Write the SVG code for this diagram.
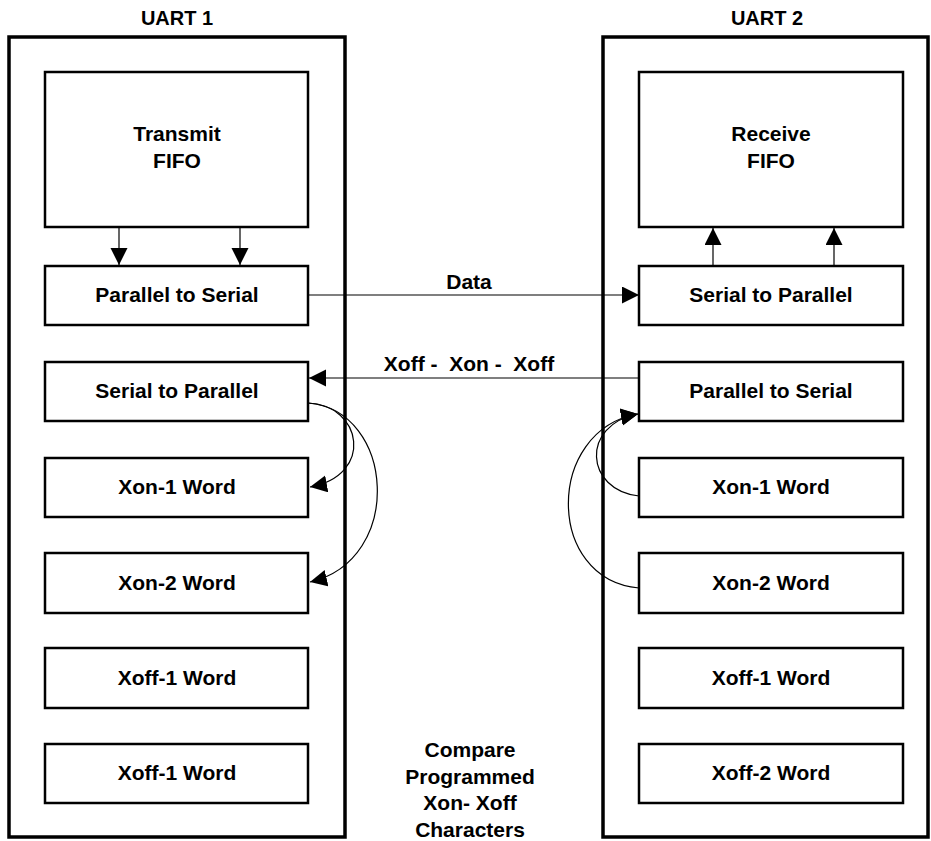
<svg xmlns="http://www.w3.org/2000/svg" width="931" height="841" viewBox="0 0 931 841">
<style>
.outer{fill:none;stroke:#000;stroke-width:3.5}
.box{fill:#fff;stroke:#000;stroke-width:2.5}
.t{font-family:"Liberation Sans",Arial,sans-serif;font-weight:bold;font-size:21px;fill:#000;text-anchor:middle}
.h{font-size:20px}
.c{fill:none;stroke:#000;stroke-width:1.2}
</style>
<defs>
<marker id="ah" markerUnits="userSpaceOnUse" markerWidth="19" markerHeight="19" refX="17" refY="8.5" orient="auto">
<path d="M0,0 L17,8.5 L0,17 z" fill="#000"/>
</marker>
</defs>
<rect fill="#fff" width="931" height="841"/>
<text class="t h" x="177" y="25">UART 1</text>
<text class="t h" x="767" y="25">UART 2</text>
<rect id="uart1" class="outer" x="9" y="37" width="336" height="800"/>
<rect id="uart2" class="outer" x="603" y="37" width="325" height="800"/>

<g id="connectors">
<path class="c" d="M119,227 V265" marker-end="url(#ah)"/>
<path class="c" d="M240,227 V265" marker-end="url(#ah)"/>
<path class="c" d="M713,266 V228" marker-end="url(#ah)"/>
<path class="c" d="M834,266 V228" marker-end="url(#ah)"/>
<path class="c" d="M308,295 H639" marker-end="url(#ah)"/>
<path class="c" d="M639,378 H309" marker-end="url(#ah)"/>
<path class="c" d="M308,403 C362,405 375,475 310,487" marker-end="url(#ah)"/>
<path class="c" d="M308,403 C395,410 405,560 310,582" marker-end="url(#ah)"/>
<path class="c" d="M639,496 C585,490 580,425 638,414" marker-end="url(#ah)"/>
<path class="c" d="M639,588 C545,580 545,430 638,414" marker-end="url(#ah)"/>
</g>
<text class="t" x="469" y="289">Data</text>
<text class="t" x="469" y="371" xml:space="preserve">Xoff -  Xon -  Xoff</text>

<g id="tx-fifo"><rect class="box" x="45" y="72" width="263" height="155"/><text class="t" x="177" y="141">Transmit</text><text class="t" x="177" y="168">FIFO</text></g>
<g id="p2s-1"><rect class="box" x="45" y="266" width="263" height="59"/><text class="t" x="177" y="302">Parallel to Serial</text></g>
<g id="s2p-1"><rect class="box" x="45" y="362" width="263" height="59"/><text class="t" x="177" y="398">Serial to Parallel</text></g>
<g id="xon1-1"><rect class="box" x="45" y="458" width="263" height="59"/><text class="t" x="177" y="494">Xon-1 Word</text></g>
<g id="xon2-1"><rect class="box" x="45" y="553" width="263" height="60"/><text class="t" x="177" y="590">Xon-2 Word</text></g>
<g id="xoff1-1"><rect class="box" x="45" y="648" width="263" height="60"/><text class="t" x="177" y="685">Xoff-1 Word</text></g>
<g id="xoff1b-1"><rect class="box" x="45" y="744" width="263" height="59"/><text class="t" x="177" y="780">Xoff-1 Word</text></g>

<g id="rx-fifo"><rect class="box" x="639" y="72" width="264" height="155"/><text class="t" x="771" y="141">Receive</text><text class="t" x="771" y="168">FIFO</text></g>
<g id="s2p-2"><rect class="box" x="639" y="266" width="264" height="59"/><text class="t" x="771" y="302">Serial to Parallel</text></g>
<g id="p2s-2"><rect class="box" x="639" y="362" width="264" height="59"/><text class="t" x="771" y="398">Parallel to Serial</text></g>
<g id="xon1-2"><rect class="box" x="639" y="458" width="264" height="59"/><text class="t" x="771" y="494">Xon-1 Word</text></g>
<g id="xon2-2"><rect class="box" x="639" y="553" width="264" height="60"/><text class="t" x="771" y="590">Xon-2 Word</text></g>
<g id="xoff1-2"><rect class="box" x="639" y="648" width="264" height="60"/><text class="t" x="771" y="685">Xoff-1 Word</text></g>
<g id="xoff2-2"><rect class="box" x="639" y="744" width="264" height="59"/><text class="t" x="771" y="780">Xoff-2 Word</text></g>

<g id="compare-note">
<text class="t" x="470" y="757">Compare</text>
<text class="t" x="470" y="784">Programmed</text>
<text class="t" x="470" y="810" xml:space="preserve">Xon- Xoff</text>
<text class="t" x="470" y="837">Characters</text>
</g>
</svg>
